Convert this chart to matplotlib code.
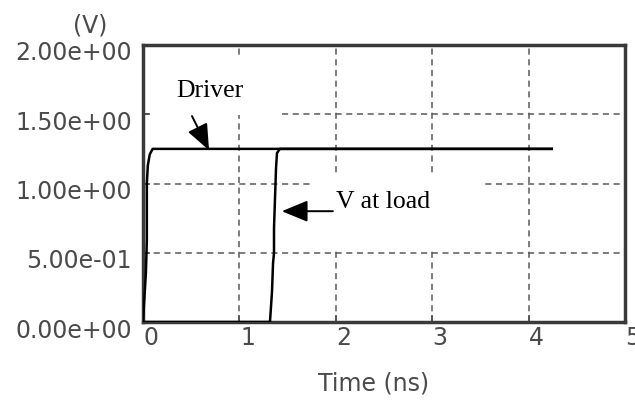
import numpy as np
import matplotlib.pyplot as plt
import matplotlib.transforms as mtransforms
from matplotlib.patches import Rectangle

# driver output: fast edge at t=0, settles at 1.25 V
t_drv = [0.0, 0.01, 0.03, 0.04, 0.04, 0.05, 0.07, 0.10, 4.24]
v_drv = [0.0, 0.12, 0.355, 0.59, 1.0, 1.13, 1.21, 1.25, 1.25]

# voltage seen at the load, delayed by the line
t_load = [0.0, 1.317, 1.338, 1.349, 1.359, 1.359, 1.38, 1.39, 1.42, 4.24]
v_load = [0.0, 0.0, 0.217, 0.426, 0.498, 0.679, 1.112, 1.22, 1.25, 1.25]

xticks = [0, 1, 2, 3, 4, 5]
yticks = [0.0, 0.5, 1.0, 1.5, 2.0]
ylabels = ["0.00e+00", "5.00e-01", "1.00e+00", "1.50e+00", "2.00e+00"]

grey = "#4a4a4a"

fig = plt.figure(figsize=(6.35, 4.0), dpi=100)
ax = fig.add_axes([143/635, 78/400, 482/635, 277/400])

ax.set_xlim(0, 5)
ax.set_ylim(0, 2)
ax.set_xticks(xticks)
ax.set_xticklabels([str(x) for x in xticks])
ax.set_yticks(yticks)
ax.set_yticklabels(ylabels)

ax.set_axisbelow(True)
ax.grid(True, color="#5a5a5a", linestyle=(0, (4, 3)), linewidth=1.1)

for sp in ax.spines.values():
    sp.set_color("#3a3a3a")
    sp.set_linewidth(2.5)

ax.tick_params(direction="in", length=5, width=1.1, color=grey,
               labelcolor=grey, labelsize=17)
ax.tick_params(axis="y", pad=8)
ax.tick_params(axis="x", pad=3)

# nudge tick labels like the old plotter output
dy = mtransforms.ScaledTranslation(0, -6/100, fig.dpi_scale_trans)
for lab in ax.get_yticklabels():
    lab.set_transform(lab.get_transform() + dy)
dx = mtransforms.ScaledTranslation(8/100, 0, fig.dpi_scale_trans)
for lab in ax.get_xticklabels():
    lab.set_transform(lab.get_transform() + dx)

# white boxes behind the annotations hide the grid there
ax.add_patch(Rectangle((0.07, 1.495), 1.37, 0.415, facecolor="white",
                       edgecolor="none", zorder=1))
ax.add_patch(Rectangle((1.75, 0.535), 1.78, 0.541, facecolor="white",
                       edgecolor="none", zorder=1))

ax.plot(t_load, v_load, color="black", linewidth=1.8, zorder=3)
ax.plot(t_drv, v_drv, color="black", linewidth=1.8, zorder=3)

serif = "Liberation Serif"
ax.text(0.35, 1.625, "Driver", family=serif, fontsize=18.5, va="baseline", zorder=4)
ax.text(2.0, 0.823, "V at load", family=serif, fontsize=18.5, va="baseline", zorder=4)

arrow = dict(arrowstyle="-|>,head_length=0.8,head_width=0.33", color="black",
             lw=1.4, mutation_scale=20, shrinkA=0, shrinkB=0)
ax.annotate("", xy=(0.685, 1.24), xytext=(0.508, 1.487), arrowprops=arrow, zorder=4)
ax.annotate("", xy=(1.44, 0.80), xytext=(1.97, 0.80), arrowprops=arrow, zorder=4)

fig.text(90/635, 1 - 25/400, "(V)", color=grey, fontsize=17, ha="center", va="center")
fig.text(374/635, 1 - 383/400, "Time (ns)", color=grey, fontsize=17, ha="center", va="center")

fig.savefig("out.png", dpi=100)
